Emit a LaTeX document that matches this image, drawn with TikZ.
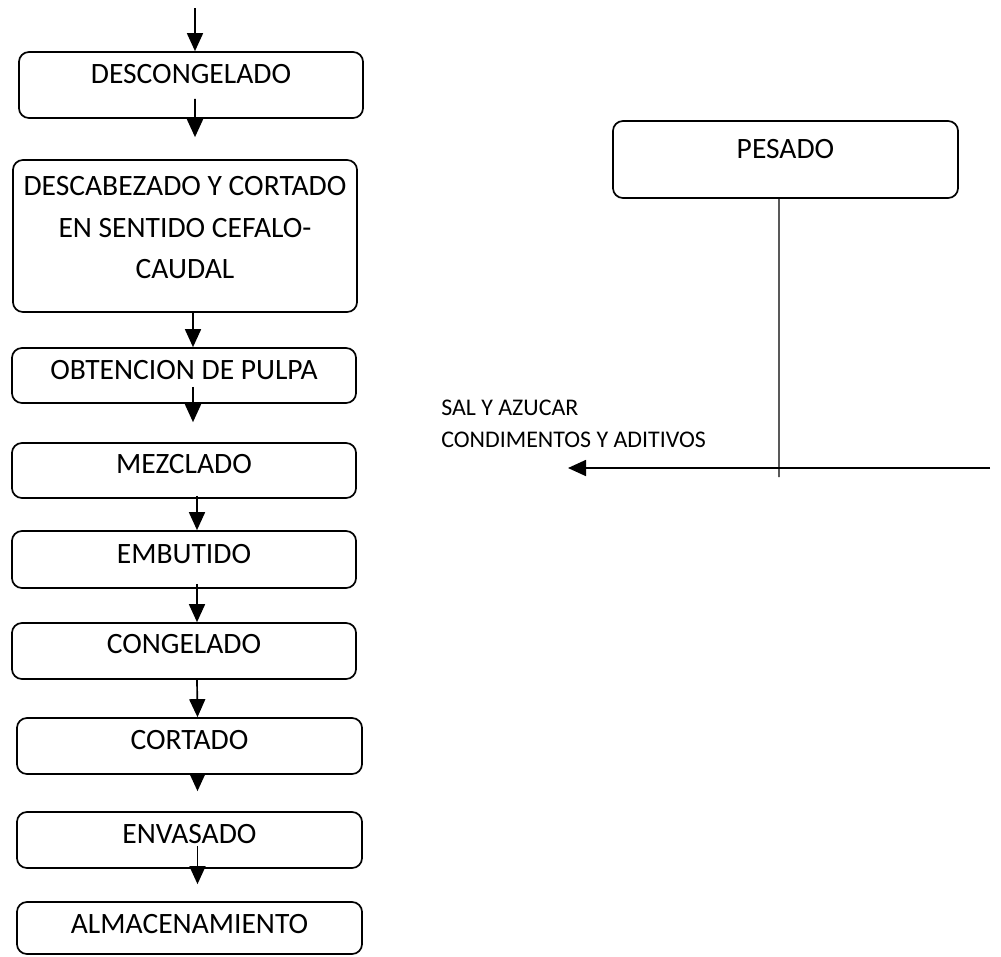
\documentclass[tikz,border=0pt]{standalone}
\usepackage{fontspec}
\setmainfont{Carlito}
\usetikzlibrary{arrows.meta}

\tikzset{
    stepbox/.style={draw, line width=1.2pt, rounded corners=0.25cm, inner sep=0pt},
    steptext/.style={font=\fontsize{21}{29.5}\selectfont, inner sep=0pt},
    addtext/.style={font=\fontsize{17}{19}\selectfont, inner sep=0pt, anchor=west},
    flow/.style={line width=1.2pt, -{Triangle[length=0.45cm, width=0.4cm]}}
}

\begin{document}
\begin{tikzpicture}[x=0.025cm, y=-0.025cm]
    \useasboundingbox (0,0) rectangle (1001,956);

    % Draw nodes
    \node[stepbox, minimum width=8.6cm, minimum height=1.65cm] (b1) at (191,85) {};
    \node[stepbox, minimum width=8.6cm, minimum height=3.8cm] (b2) at (185,236) {};
    \node[stepbox, minimum width=8.6cm, minimum height=1.375cm] (b3) at (184,375.5) {};
    \node[stepbox, minimum width=8.6cm, minimum height=1.375cm] (b4) at (184,470.5) {};
    \node[stepbox, minimum width=8.6cm, minimum height=1.425cm] (b5) at (184,559.5) {};
    \node[stepbox, minimum width=8.6cm, minimum height=1.4cm] (b6) at (184,651) {};
    \node[stepbox, minimum width=8.625cm, minimum height=1.4cm] (b7) at (189.5,746) {};
    \node[stepbox, minimum width=8.625cm, minimum height=1.4cm] (b8) at (189.5,840) {};
    \node[stepbox, minimum width=8.625cm, minimum height=1.3cm] (b9) at (189.5,928) {};
    \node[stepbox, minimum width=8.625cm, minimum height=1.925cm] (pes) at (785.5,159.5) {};

    % Texts
    \node[steptext, anchor=base] (t1) at (191,83) {DESCONGELADO};
    \node[steptext, align=center] (t2) at (185,228) {DESCABEZADO Y CORTADO\\EN SENTIDO CEFALO-\\CAUDAL};
    \node[steptext, anchor=base] (t3) at (184,379) {OBTENCION DE PULPA};
    \node[steptext, anchor=base] (t4) at (184,473) {MEZCLADO};
    \node[steptext, anchor=base] (t5) at (184,563) {EMBUTIDO};
    \node[steptext, anchor=base] (t6) at (184,653) {CONGELADO};
    \node[steptext, anchor=base] (t7) at (189.5,749) {CORTADO};
    \node[steptext, anchor=base] (t8) at (189.5,843) {ENVASADO};
    \node[steptext, anchor=base] (t9) at (189.5,933) {ALMACENAMIENTO};
    \node[steptext, anchor=base] (tp) at (785.5,158) {PESADO};

    \node[addtext] (sal) at (441,408) {SAL Y AZUCAR};
    \node[addtext] (cond) at (441,440) {CONDIMENTOS Y ADITIVOS};

    % Draw connections
    \coordinate (top) at (195,8);
    \draw[flow] (top) -- ([xshift=0.1cm]b1.north);
    \draw[flow] ([xshift=0.1cm, yshift=0.5cm]b1.south) -- ([xshift=0.25cm, yshift=0.55cm]b2.north);
    \draw[flow] ([xshift=0.2cm]b2.south) -- ([xshift=0.225cm]b3.north);
    \draw[flow] ([xshift=0.225cm, yshift=0.425cm]b3.south) -- ([xshift=0.225cm, yshift=0.5cm]b4.north);
    \draw[flow] ([xshift=0.325cm, yshift=0.075cm]b4.south) -- ([xshift=0.325cm]b5.north);
    \draw[flow] ([xshift=0.325cm, yshift=0.125cm]b5.south) -- ([xshift=0.325cm]b6.north);
    \draw[flow] ([xshift=0.325cm]b6.south) -- ([xshift=0.2cm]b7.north);
    \draw[flow] ([xshift=0.2cm]b7.south) -- ([xshift=0.2cm, yshift=0.5cm]b8.north);
    \draw[flow] ([xshift=0.2cm, yshift=0.575cm]b8.south) -- ([xshift=0.2cm, yshift=0.425cm]b9.north);

    % Pesado line and additions
    \coordinate (mixend) at (779,477);
    \coordinate (inR) at (990,468);
    \coordinate (inL) at (568,468);
    \draw[line width=1pt] ([xshift=-0.1625cm]pes.south) -- (mixend);
    \draw[flow] (inR) -- (inL);
\end{tikzpicture}
\end{document}
